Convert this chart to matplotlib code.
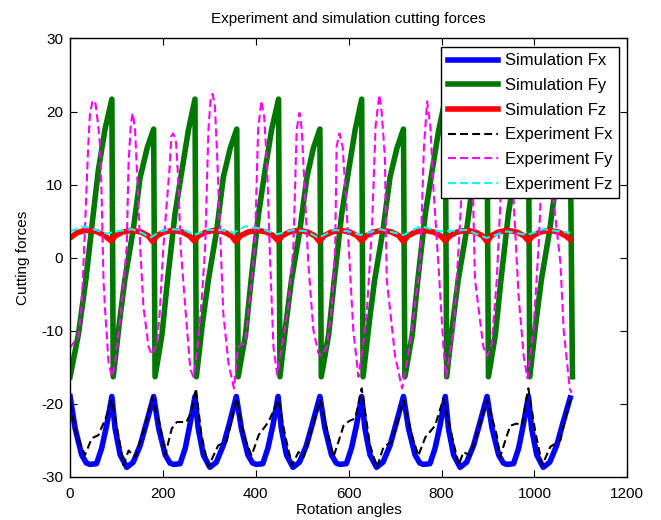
import matplotlib
matplotlib.use('Agg')
import matplotlib.pyplot as plt

plt.rcParams['font.family'] = ['Liberation Sans', 'DejaVu Sans']
plt.rcParams['font.size'] = 11
plt.rcParams['axes.unicode_minus'] = False

# Simulation Fx (blue)
sim_fx_x = [0, 11, 25, 35, 43, 57, 68, 79, 90,
            97, 108, 122, 136, 151, 165, 180,
            191, 205, 215, 223, 237, 248, 258, 269,
            276, 287, 301, 315, 330, 344, 358,
            369, 383, 393, 401, 415, 426, 437, 448,
            455, 466, 480, 494, 509, 523, 538,
            549, 563, 573, 581, 595, 606, 617, 628,
            635, 646, 660, 674, 689, 703, 718,
            729, 743, 753, 761, 775, 786, 797, 808,
            815, 826, 840, 854, 869, 883, 898,
            909, 923, 933, 941, 955, 966, 976, 987,
            994, 1005, 1019, 1033, 1048, 1062, 1077]
sim_fx_y = [-19, -23.4, -27, -28.1, -28.3, -28.2, -26.1, -22.9, -19,
            -23.4, -27, -28.7, -28, -25.7, -22.5, -19,
            -23.4, -27, -28.1, -28.3, -28.2, -26.1, -22.9, -19,
            -23.4, -27, -28.7, -28, -25.7, -22.5, -19,
            -23.4, -27, -28.1, -28.3, -28.2, -26.1, -22.9, -19,
            -23.4, -27, -28.7, -28, -25.7, -22.5, -19,
            -23.4, -27, -28.1, -28.3, -28.2, -26.1, -22.9, -19,
            -23.4, -27, -28.7, -28, -25.7, -22.5, -19,
            -23.4, -27, -28.1, -28.3, -28.2, -26.1, -22.9, -19,
            -23.4, -27, -28.7, -28, -25.7, -22.5, -19,
            -23.4, -27, -28.1, -28.3, -28.2, -26.1, -22.9, -19,
            -23.4, -27, -28.7, -28, -25.7, -22.5, -19.2]

# Simulation Fy (green)
sim_fy_x = [0, 18, 34, 50, 61, 75, 90,
            93, 106, 118, 136, 151, 166, 180,
            183, 198, 210, 226, 241, 255, 269,
            272, 285, 298, 316, 330, 345, 359,
            362, 378, 390, 406, 420, 434, 449,
            452, 465, 477, 495, 510, 524, 538,
            541, 557, 569, 585, 600, 614, 628,
            631, 644, 656, 674, 689, 704, 718,
            721, 737, 749, 765, 780, 794, 808,
            811, 824, 836, 854, 869, 884, 898,
            901, 916, 928, 944, 959, 973, 987,
            990, 1003, 1015, 1033, 1048, 1063, 1077, 1082]
sim_fy_y = [-16.3, -10.5, -3, 6, 12, 17.5, 21.7,
            -16.3, -9, -3, 3.8, 11, 15, 17.6,
            -16.3, -10.5, -3, 6, 12, 17.5, 21.7,
            -16.3, -9, -3, 3.8, 11, 15, 17.6,
            -16.3, -10.5, -3, 6, 12, 17.5, 21.7,
            -16.3, -9, -3, 3.8, 11, 15, 17.6,
            -16.3, -10.5, -3, 6, 12, 17.5, 21.7,
            -16.3, -9, -3, 3.8, 11, 15, 17.6,
            -16.3, -10.5, -3, 6, 12, 17.5, 21.7,
            -16.3, -9, -3, 3.8, 11, 15, 17.6,
            -16.3, -10.5, -3, 6, 12, 17.5, 21.7,
            -16.3, -9, -3, 3.8, 11, 15, 17.6, -16.3]

# Simulation Fz (red)
sim_fz_x = [0, 15, 30, 45, 60, 75, 88,
            98, 113, 133, 153, 168, 178,
            187, 202, 222, 242, 257, 267,
            277, 292, 312, 332, 347, 357,
            367, 383, 403, 423, 438, 448,
            457, 472, 492, 512, 527, 537,
            547, 563, 583, 603, 618, 628,
            638, 653, 673, 693, 708, 718,
            728, 743, 763, 783, 798, 808,
            818, 833, 853, 873, 888, 898,
            907, 922, 942, 962, 977, 987,
            997, 1012, 1032, 1052, 1067, 1077]
sim_fz_y = [2.7, 3.4, 3.7, 3.75, 3.5, 3.0, 2.3,
            3.0, 3.5, 3.75, 3.5, 3.0, 2.2,
            3.0, 3.5, 3.75, 3.5, 3.0, 2.3,
            3.0, 3.5, 3.75, 3.5, 3.0, 2.2,
            3.0, 3.5, 3.75, 3.5, 3.0, 2.3,
            3.0, 3.5, 3.75, 3.5, 3.0, 2.2,
            3.0, 3.5, 3.75, 3.5, 3.0, 2.3,
            3.0, 3.5, 3.75, 3.5, 3.0, 2.2,
            3.0, 3.5, 3.75, 3.5, 3.0, 2.3,
            3.0, 3.5, 3.75, 3.5, 3.0, 2.2,
            3.0, 3.5, 3.75, 3.5, 3.0, 2.3,
            3.0, 3.5, 3.75, 3.5, 3.0, 2.5]

# Experiment Fx (black dashed)
exp_fx_x = [0, 14, 32, 47, 61, 79, 90, 104, 115, 126, 140, 162, 177,
            194, 205, 219, 230, 251, 262, 271, 283, 298, 319, 337, 359,
            373, 391, 406, 427, 449, 463, 478, 492, 503, 521, 539,
            556, 567, 578, 589, 600, 614, 628, 646, 661, 675, 693, 718,
            736, 750, 765, 786, 804, 822, 837, 847, 862, 880, 898,
            919, 926, 941, 948, 962, 973, 987, 1002, 1017, 1034, 1056, 1073, 1078]
exp_fx_y = [-20, -24.2, -27, -24.7, -24.3, -21.6, -19.5, -24.3, -28.4, -26.4, -27.3, -23, -19.1,
            -23, -27, -23.4, -22.5, -22.5, -20.9, -17.9, -24.3, -28.6, -25.7, -25.2, -19.3,
            -24.3, -27.1, -24.3, -22.5, -19.5, -24.3, -28.4, -26.6, -27.3, -23.4, -19.5,
            -24.3, -27.3, -25.2, -23, -22.4, -22, -17.9, -25.7, -28.7, -25.9, -25.2, -19.5,
            -24.3, -27.1, -24.6, -23, -19.3, -24.3, -28.4, -26.6, -27.1, -23.4, -19.5,
            -24.3, -27.3, -24.3, -23, -22.7, -23, -17.9, -23.9, -28.4, -25.9, -25, -20.2, -19.5]

# Experiment Fy (magenta dashed)
exp_fy_x = [0, 18, 25, 32, 39, 43, 48, 54, 58, 61, 65, 68, 72, 75, 83, 90,
            97, 111, 122, 126, 131, 135, 140, 145, 151, 158, 169, 176,
            187, 193, 201, 215, 218, 222, 228, 233, 238, 248, 259, 266,
            275, 284, 291, 298, 303, 307, 312, 316, 323, 330, 341, 353,
            362, 377, 388, 398, 405, 412, 418, 424, 431, 438, 446,
            456, 470, 481, 488, 494, 499, 506, 513, 524, 535, 542,
            553, 564, 571, 574, 580, 587, 594, 602, 610, 621,
            630, 639, 650, 658, 666, 671, 678, 682, 700, 715,
            732, 754, 762, 769, 776, 782, 793, 804, 810,
            826, 837, 848, 854, 860, 868, 872, 890, 898,
            908, 919, 930, 937, 945, 955, 966, 977, 985,
            998, 1009, 1018, 1026, 1033, 1041, 1056, 1063, 1076, 1080]
exp_fy_y = [-12.3, -10.8, -6.7, 3.8, 15.2, 19.8, 21.3, 21.5, 19.5, 17.9, 15, 8.4, -3, -6.7, -14.4, -16.3,
            -14.4, -6.7, 1.5, 12.9, 18.4, 19.8, 17.5, 10.6, 1.5, -6.7, -12.2, -13.3,
            -11.9, -7.6, 1.5, 12.9, 16.6, 17, 16.1, 10.6, 1.5, -6.7, -15.3, -16.3,
            -12, -5.3, 1.5, 17.5, 22, 22.4, 20.7, 15.2, 3.8, -7.6, -14.4, -17.9,
            -12.2, -11.7, -5, 1.5, 17.5, 21.5, 19.3, 12.9, -0.7, -12.2, -16.0,
            -12.2, -6.7, 1.5, 17.5, 19.8, 17.5, 8.4, -0.7, -9.9, -13.1, -13.4,
            -12.2, -6.7, 1.5, 15.2, 17, 15.2, 8.4, -0.7, -9.9, -16.3,
            -12.5, -7.6, 3.8, 18, 22.3, 20, 13.8, -3, -13.5, -17.9,
            -11.9, -0.7, 15, 21.4, 18, 10, -0.7, -12.2, -16.3,
            -9.9, 1.5, 15, 19.8, 17, 8, -3, -12.2, -13.5,
            -11.9, -3, 12, 17, 15, 8, -5.3, -13.5, -16.5,
            -9.9, 1.5, 15, 22.3, 19, 8, -0.7, -9.9, -17.9, -18.5]

# Experiment Fz (cyan dashed)
exp_fz_x = [0, 29, 50, 79, 100, 133, 158, 172, 194, 215, 245, 268, 294, 325, 352,
            377, 409, 446, 481, 510, 535, 568, 600, 625, 668, 718, 754, 797,
            854, 897, 941, 984, 1020, 1077]
exp_fz_y = [3.6, 4.3, 3.9, 3.3, 3.6, 3.9, 3.3, 2.7, 3.6, 3.9, 3.8, 3.1, 3.8, 3.8, 3.4,
            4.3, 4.0, 3.2, 3.8, 3.6, 2.7, 3.8, 3.6, 3.1, 3.9, 3.1, 4.3, 3.6,
            3.8, 2.7, 3.6, 3.1, 3.9, 3.4]

x_ticks = [0, 200, 400, 600, 800, 1000, 1200]
y_ticks = [-30, -20, -10, 0, 10, 20, 30]

fig = plt.figure(figsize=(6.61, 5.2), dpi=100)
ax = fig.add_axes([0.106, 0.083, 0.843, 0.843])

thick = 4.0
thin = 1.5
dash = (3.8, 2.0)
ax.plot(sim_fx_x, sim_fx_y, color='#0000ff', lw=thick, solid_joinstyle='round', label='Simulation Fx')
ax.plot(sim_fy_x, sim_fy_y, color='#007800', lw=thick, solid_joinstyle='round', label='Simulation Fy')
ax.plot(sim_fz_x, sim_fz_y, color='#ff0000', lw=thick, solid_joinstyle='round', label='Simulation Fz')
ax.plot(exp_fx_x, exp_fx_y, color='black', lw=thin, dashes=dash, label='Experiment Fx')
ax.plot(exp_fy_x, exp_fy_y, color='#ff00ff', lw=thin, dashes=dash, label='Experiment Fy')
ax.plot(exp_fz_x, exp_fz_y, color='#00ffff', lw=thin, dashes=dash, label='Experiment Fz')

ax.set_xlim(0, 1200)
ax.set_ylim(-30, 30)
ax.set_xticks(x_ticks)
ax.set_yticks(y_ticks)
ax.tick_params(direction='in', length=5, top=True, right=True, width=0.8,
               labelsize=11, pad=5)
ax.tick_params(axis='x', pad=7)
for s in ax.spines.values():
    s.set_linewidth(1.0)

ax.set_title('Experiment and simulation cutting forces', fontsize=11, pad=11)
ax.set_xlabel('Rotation angles', fontsize=11, labelpad=2)
ax.set_ylabel('Cutting forces', fontsize=11, labelpad=8)

leg = ax.legend(loc='upper right', fontsize=12, fancybox=False, framealpha=1,
                edgecolor='black', handlelength=3.05, handletextpad=0.38,
                labelspacing=0.58, borderpad=0.4, borderaxespad=0.5)
leg.get_frame().set_linewidth(1.0)

fig.savefig('out.png', dpi=100)
